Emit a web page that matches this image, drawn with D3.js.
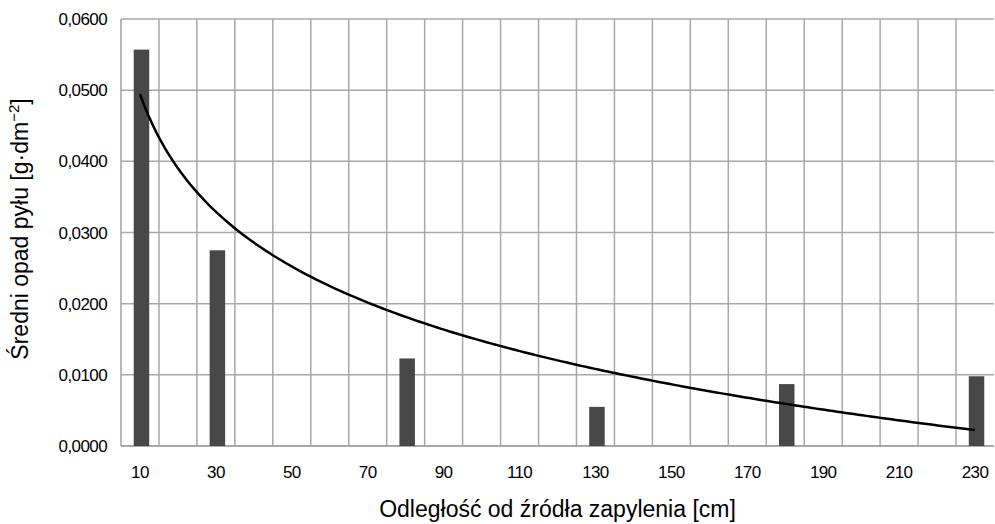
<!DOCTYPE html>
<html>
<head>
<meta charset="utf-8">
<script src="https://cdn.jsdelivr.net/npm/d3@7/dist/d3.min.js"></script>
<style>
  body { margin: 0; background: #fff; }
  text { font-family: "Liberation Sans", Arial, sans-serif; fill: #000; }
</style>
</head>
<body>
<svg width="995" height="524"></svg>
<script>
// categories on the x axis (every 10 cm), labels only every second one
const categories = d3.range(10, 240, 10);
const tickLabels = [10, 30, 50, 70, 90, 110, 130, 150, 170, 190, 210, 230];
// measured points
const distances = [10, 30, 80, 130, 180, 230];
const falloutValues = [0.0557, 0.0275, 0.0123, 0.0055, 0.0087, 0.0098];
const yTicks = [0, 0.01, 0.02, 0.03, 0.04, 0.05, 0.06];

const svg = d3.select("svg");
const margin = { left: 121, right: 1, top: 19, bottom: 78 };
const width = 995 - margin.left - margin.right;
const height = 524 - margin.top - margin.bottom;

const g = svg.append("g")
  .attr("transform", "translate(" + margin.left + "," + margin.top + ")");

const x = d3.scaleBand().domain(categories).range([0, width]);
const y = d3.scaleLinear().domain([0, 0.06]).range([height, 0]);

const fmt = v => d3.format(".4f")(v).replace(".", ",");

// horizontal grid
g.append("g")
  .selectAll("line")
  .data(yTicks)
  .enter().append("line")
  .attr("x1", 0).attr("x2", width)
  .attr("y1", d => y(d)).attr("y2", d => y(d))
  .attr("stroke", "#a8a8a8").attr("stroke-width", 1.5);

// vertical grid on category boundaries
g.append("g")
  .selectAll("line")
  .data(categories.slice(1))
  .enter().append("line")
  .attr("x1", d => x(d)).attr("x2", d => x(d))
  .attr("y1", 0).attr("y2", height)
  .attr("stroke", "#a8a8a8").attr("stroke-width", 1.5);

// axis lines
g.append("line").attr("x1", 0).attr("x2", 0).attr("y1", 0).attr("y2", height)
  .attr("stroke", "#a0a0a0").attr("stroke-width", 1.5);
g.append("line").attr("x1", 0).attr("x2", width).attr("y1", height).attr("y2", height)
  .attr("stroke", "#a0a0a0").attr("stroke-width", 1.5);

// y tick labels
g.append("g")
  .selectAll("text")
  .data(yTicks)
  .enter().append("text")
  .attr("x", -14)
  .attr("y", d => y(d) + 6)
  .attr("text-anchor", "end")
  .style("font-size", "17px")
  .style("letter-spacing", "-0.6px")
  .text(fmt);

// x tick labels
g.append("g")
  .selectAll("text")
  .data(tickLabels)
  .enter().append("text")
  .attr("x", d => x(d) + x.bandwidth() / 2)
  .attr("y", height + 32)
  .attr("text-anchor", "middle")
  .style("font-size", "17px")
  .style("letter-spacing", "-0.6px")
  .text(d => d);

// bars
const barW = 15.5;
g.append("g")
  .selectAll("rect")
  .data(distances)
  .enter().append("rect")
  .attr("x", (d, i) => x(d) + x.bandwidth() / 2 - barW / 2 + 1.5)
  .attr("y", (d, i) => y(falloutValues[i]))
  .attr("width", barW)
  .attr("height", (d, i) => height - y(falloutValues[i]))
  .attr("fill", "#484848");

// logarithmic trendline (least squares on ln of category index)
const idx = distances.map(d => categories.indexOf(d) + 1);
const lx = idx.map(Math.log);
const mx = d3.mean(lx), my = d3.mean(falloutValues);
const slope = d3.sum(lx, (v, i) => (v - mx) * (falloutValues[i] - my)) /
  d3.sum(lx, v => (v - mx) * (v - mx));
const intercept = my - slope * mx;

const trend = d3.range(0, 201).map(k => {
  const t = 1 + (categories.length - 1) * k / 200;
  return [t, slope * Math.log(t) + intercept];
});
const xi = d3.scaleLinear().domain([1, categories.length])
  .range([x.bandwidth() / 2, width - x.bandwidth() / 2]);

g.append("path")
  .datum(trend)
  .attr("fill", "none")
  .attr("stroke", "#000")
  .attr("stroke-width", 2.5)
  .attr("d", d3.line().x(d => xi(d[0])).y(d => y(d[1])));

// axis titles
svg.append("text")
  .attr("x", margin.left + width / 2)
  .attr("y", 517)
  .attr("text-anchor", "middle")
  .style("font-size", "23px")
  .text("Odległość od źródła zapylenia [cm]");

const yt = svg.append("text")
  .attr("transform", "translate(28,229) rotate(-90)")
  .attr("text-anchor", "middle")
  .style("font-size", "23px");
yt.append("tspan").text("Średni opad pyłu [g·dm");
yt.append("tspan").attr("dy", -9).style("font-size", "15px").text("−2");
yt.append("tspan").attr("dy", 9).text("]");
</script>
</body>
</html>
